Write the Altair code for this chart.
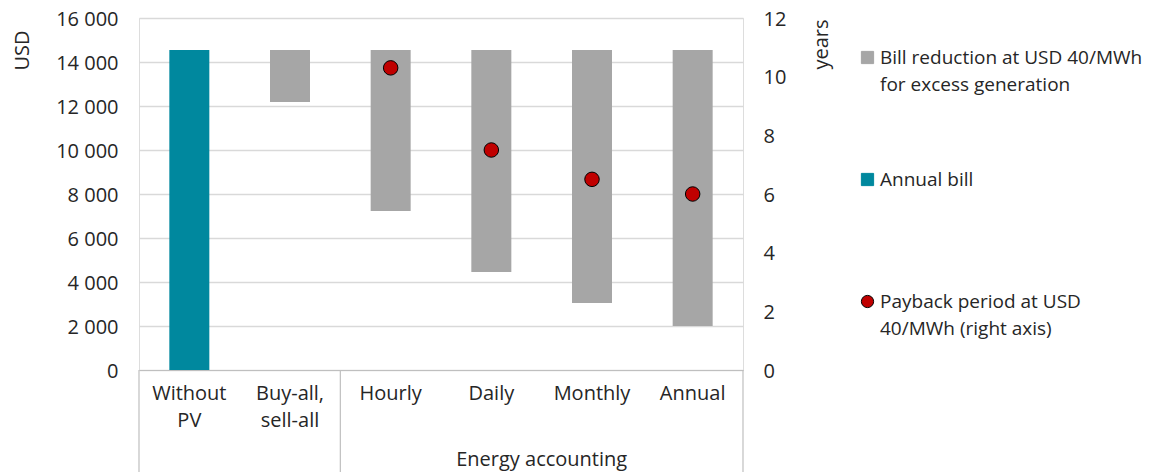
import altair as alt
import pandas as pd

categories = ["Without PV", "Buy-all, sell-all", "Hourly", "Daily", "Monthly", "Annual"]
category_lines = [["Without", "PV"], ["Buy-all,", "sell-all"], ["Hourly"], ["Daily"], ["Monthly"], ["Annual"]]

series_names = ["Bill reduction", "Annual bill", "Payback period"]
legend_lines = [["Bill reduction at USD 40/MWh", "for excess generation"],
                ["Annual bill", " "],
                ["Payback period at USD", "40/MWh (right axis)"]]
series_colors = ["#a6a6a6", "#00889e", "#c00000"]
series_strokes = ["#a6a6a6", "#00889e", "#000000"]
series_shapes = ["square", "square", "circle"]

bar_categories = ["Without PV", "Buy-all, sell-all", "Hourly", "Daily", "Monthly", "Annual"]
bar_top = [14550, 14550, 14550, 14550, 14550, 14550]
bar_bottom = [0, 12180, 7230, 4450, 3050, 2000]
bar_series = ["Annual bill", "Bill reduction", "Bill reduction", "Bill reduction", "Bill reduction", "Bill reduction"]

payback_categories = ["Hourly", "Daily", "Monthly", "Annual"]
payback_years = [10.3, 7.5, 6.5, 6.0]
payback_series = ["Payback period"] * 4

usd_ticks = [0, 2000, 4000, 6000, 8000, 10000, 12000, 14000, 16000]
year_ticks = [0, 2, 4, 6, 8, 10, 12]

group_label = "Energy accounting"
sep_left_cats = ["Without PV", "Hourly"]
sep_right_cats = ["Annual"]

FONT = "Open Sans"
FS = 20
LFS = 19
TXT = "#262626"
W, H = 604, 352


def lines_expr(keys, lines):
    expr = "datum.label"
    for k, l in reversed(list(zip(keys, lines))):
        arr = "[" + ",".join("'" + s + "'" for s in l) + "]"
        expr = f"datum.label == '{k}' ? {arr} : ({expr})"
    return expr


bars_df = pd.DataFrame({"category": bar_categories, "low": bar_bottom, "high": bar_top, "series": bar_series})
pts_df = pd.DataFrame({"category": payback_categories, "years": payback_years, "series": payback_series})

x_scale = alt.Scale(domain=categories, paddingInner=0, paddingOuter=0)
x_axis = alt.Axis(title=None, labelExpr=lines_expr(categories, category_lines), labelAngle=0,
                  ticks=False, domain=True, domainColor="#bfbfbf", domainWidth=1.2,
                  labelPadding=13, labelLineHeight=27, labelFont=FONT, labelFontSize=FS,
                  labelColor=TXT, labelBaseline="top", grid=False)

color_scale = alt.Scale(domain=series_names, range=series_colors)
stroke_scale = alt.Scale(domain=series_names, range=series_strokes)
shape_scale = alt.Scale(domain=series_names, range=series_shapes)

legend = alt.Legend(title=None, orient="none", legendX=719, legendY=30,
                    labelExpr=lines_expr(series_names, legend_lines),
                    labelFont=FONT, labelFontSize=LFS, labelColor=TXT, labelLimit=400,
                    symbolSize=150, symbolStrokeWidth=1,
                    rowPadding=75, labelOffset=3, padding=0)

bars = alt.Chart(bars_df).mark_bar(size=40).encode(
    x=alt.X("category:N", scale=x_scale, axis=x_axis, sort=categories),
    y=alt.Y("low:Q", scale=alt.Scale(domain=[0, 16000], nice=False),
            axis=alt.Axis(title="USD", values=usd_ticks,
                          labelExpr="replace(format(datum.value, ','), ',', ' ')",
                          ticks=False, domain=False, grid=True, gridColor="#d9d9d9", gridWidth=1.3,
                          labelPadding=21, labelOffset=1, labelFont=FONT, labelFontSize=FS, labelColor=TXT,
                          titleFont=FONT, titleFontSize=FS, titleFontWeight="normal", titleColor=TXT,
                          titleAngle=270, titleX=-117, titleY=32, titleAlign="center",
                          titleBaseline="middle")),
    y2="high:Q",
    color=alt.Color("series:N", scale=color_scale, legend=legend),
)

points = alt.Chart(pts_df).mark_point(filled=True, size=210, strokeWidth=1, opacity=1).encode(
    x=alt.X("category:N", scale=x_scale, sort=categories),
    y=alt.Y("years:Q", scale=alt.Scale(domain=[0, 12], nice=False),
            axis=alt.Axis(title="years", orient="right", values=year_ticks, ticks=False,
                          domain=False, grid=False, labelPadding=20, labelOffset=1, labelFont=FONT,
                          labelFontSize=FS, labelColor=TXT, titleFont=FONT, titleFontSize=FS,
                          titleFontWeight="normal", titleColor=TXT, titleAngle=270,
                          titleX=78, titleY=26, titleAlign="center", titleBaseline="middle")),
    color=alt.Color("series:N", scale=color_scale, legend=legend),
    stroke=alt.Stroke("series:N", scale=stroke_scale, legend=legend),
    shape=alt.Shape("series:N", scale=shape_scale, legend=legend),
)

sep_l = alt.Chart(pd.DataFrame({"category": sep_left_cats})).mark_rule(color="#bfbfbf", strokeWidth=1.2).encode(
    x=alt.X("category:N", scale=x_scale, bandPosition=0, sort=categories),
    y=alt.value(H), y2=alt.value(H + 112))
sep_r = alt.Chart(pd.DataFrame({"category": sep_right_cats})).mark_rule(color="#bfbfbf", strokeWidth=1.2).encode(
    x=alt.X("category:N", scale=x_scale, bandPosition=1, sort=categories),
    y=alt.value(H), y2=alt.value(H + 112))

grp = alt.Chart(pd.DataFrame({"category": ["Daily"], "label": [group_label]})).mark_text(
    font=FONT, fontSize=FS, color=TXT, align="center", baseline="middle").encode(
    x=alt.X("category:N", scale=x_scale, bandPosition=1, sort=categories),
    y=alt.value(H + 90), text="label:N")

chart = alt.layer(bars, points, sep_l, sep_r, grp).resolve_scale(y="independent").properties(
    width=W, height=H,
    autosize=alt.AutoSizeParams(type="none"),
    padding={"left": 131, "top": 10, "right": 412, "bottom": 102},
).configure_view(stroke=None).configure(font=FONT, style={"guide-label": {"lineHeight": 27}})

chart.save("out.html", embed_options={"renderer": "svg", "actions": False})
